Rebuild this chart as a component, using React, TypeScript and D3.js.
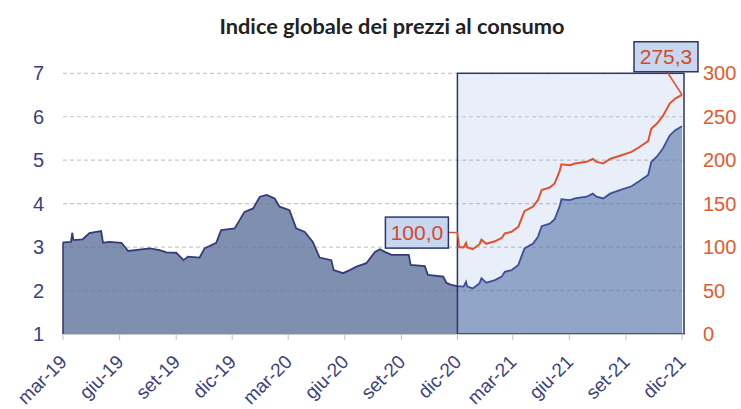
import React from "react";
import * as d3 from "d3";

const TITLE = "Indice globale dei prezzi al consumo";

const areaDates = [
  "2019-03-01","2019-03-14","2019-03-16","2019-03-18","2019-04-02","2019-04-13","2019-04-24","2019-05-02","2019-05-05","2019-05-16",
  "2019-06-04","2019-06-15","2019-07-20","2019-08-05","2019-08-16","2019-09-01","2019-09-13","2019-09-20","2019-10-09","2019-10-17",
  "2019-11-05","2019-11-13","2019-12-05","2019-12-13","2019-12-21","2020-01-04","2020-01-15","2020-01-26","2020-02-08","2020-02-16",
  "2020-03-03","2020-03-14","2020-03-28","2020-04-10","2020-04-21","2020-05-10","2020-05-14","2020-05-29","2020-06-09","2020-06-20",
  "2020-07-06","2020-07-20","2020-07-28","2020-08-05","2020-08-16","2020-09-13","2020-09-16","2020-10-09","2020-10-14","2020-11-08",
  "2020-11-13","2020-11-21","2020-12-01","2020-12-11","2020-12-15","2020-12-17","2020-12-26","2021-01-06","2021-01-09","2021-01-17",
  "2021-01-31","2021-02-11","2021-02-16","2021-02-27","2021-03-10","2021-03-15","2021-03-20","2021-04-03","2021-04-11","2021-04-17",
  "2021-04-30","2021-05-08","2021-05-16","2021-05-19","2021-06-02","2021-06-10","2021-06-29","2021-07-09","2021-07-15","2021-07-26",
  "2021-08-06","2021-08-22","2021-09-10","2021-09-23","2021-10-07","2021-10-12","2021-10-21","2021-10-31","2021-11-11","2021-11-20",
  "2021-12-01",
];
const areaValues = [
  3.11,3.12,3.33,3.16,3.18,3.32,3.35,3.37,3.10,3.12,
  3.10,2.91,2.97,2.93,2.88,2.87,2.70,2.78,2.76,2.97,
  3.10,3.39,3.43,3.62,3.81,3.89,4.16,4.20,4.12,3.93,
  3.85,3.43,3.35,3.12,2.76,2.70,2.47,2.40,2.47,2.55,
  2.63,2.89,2.95,2.89,2.82,2.82,2.59,2.56,2.36,2.32,
  2.18,2.13,2.10,2.09,2.20,2.09,2.05,2.17,2.28,2.18,
  2.24,2.32,2.43,2.47,2.59,2.78,2.97,3.08,3.24,3.48,
  3.54,3.64,3.93,4.10,4.08,4.12,4.16,4.23,4.16,4.12,
  4.23,4.31,4.40,4.52,4.66,4.96,5.08,5.27,5.57,5.69,
  5.78,
];

const indexDates = [
  "2020-12-01","2020-12-11","2020-12-15","2020-12-17","2020-12-26","2021-01-06","2021-01-09","2021-01-17",
  "2021-01-31","2021-02-11","2021-02-16","2021-02-27","2021-03-10","2021-03-15","2021-03-20","2021-04-03","2021-04-11","2021-04-17",
  "2021-04-30","2021-05-08","2021-05-16","2021-05-19","2021-06-02","2021-06-10","2021-06-29","2021-07-09","2021-07-15","2021-07-26",
  "2021-08-06","2021-08-22","2021-09-10","2021-09-23","2021-10-07","2021-10-12","2021-10-21","2021-10-31","2021-11-11","2021-11-20",
  "2021-12-01",
];
const indexValues = [
  100.0,99.5,104.8,99.5,97.6,103.3,108.6,103.8,
  106.7,110.5,115.7,117.6,123.3,132.4,141.4,146.7,154.3,165.7,
  168.6,173.3,187.1,195.2,194.3,196.2,198.1,201.4,198.1,196.2,
  201.4,205.2,209.5,215.2,221.9,236.2,241.9,251.0,265.2,271.0,
  275.3,
];

const leftTicks = [1, 2, 3, 4, 5, 6, 7];
const rightTicks = [0, 50, 100, 150, 200, 250, 300];
const xTickLabels = ["mar-19","giu-19","set-19","dic-19","mar-20","giu-20","set-20","dic-20","mar-21","giu-21","set-21","dic-21"];
const xTickDates = ["2019-03-01","2019-06-01","2019-09-01","2019-12-01","2020-03-01","2020-06-01","2020-09-01","2020-12-01","2021-03-01","2021-06-01","2021-09-01","2021-12-01"];
const xDomain = ["2019-03-01", "2021-12-01"];
const highlightStart = "2020-12-01";
const startLabel = "100,0";
const endLabel = "275,3";

const W = 741, H = 409;
const M = { left: 63, right: 682, top: 73.3, bottom: 334 };

const NAVY = "#2f356b";
const RED = "#e0522d";
const AXIS_BLUE = "#3b3f7e";

export default function App() {
  const parse = d3.timeParse("%Y-%m-%d");
  const x = d3.scaleTime().domain(xDomain.map((d) => parse(d) as Date)).range([M.left, M.right]);
  const yL = d3.scaleLinear().domain([1, 7]).range([M.bottom, M.top]);
  const yR = d3.scaleLinear().domain([0, 300]).range([M.bottom, M.top]);

  const areaData = areaDates.map((d, i) => ({ date: parse(d) as Date, v: areaValues[i] }));
  const indexData = indexDates.map((d, i) => ({ date: parse(d) as Date, v: indexValues[i] }));

  const areaGen = d3.area<{ date: Date; v: number }>().x((d) => x(d.date)).y0(yL(1)).y1((d) => yL(d.v));
  const lineGen = d3.line<{ date: Date; v: number }>().x((d) => x(d.date)).y((d) => yL(d.v));
  const idxGen = d3.line<{ date: Date; v: number }>().x((d) => x(d.date)).y((d) => yR(d.v));

  const hx = x(parse(highlightStart) as Date);
  const ticks = xTickDates.map((d, i) => ({ date: parse(d) as Date, label: xTickLabels[i] }));

  const p0 = { x: x(indexData[0].date), y: yR(indexData[0].v) };
  const last = indexData[indexData.length - 1];
  const pL = { x: x(last.date), y: yR(last.v) };

  const b0 = { x: p0.x - 72, y: p0.y - 30, w: 63, h: 31 };
  const bL = { x: pL.x - 48, y: pL.y - 53, w: 64, h: 30 };

  const areaPath = areaGen(areaData) || "";
  const outline = lineGen(areaData) || "";

  return (
    <div style={{ position: "absolute", left: 0, top: 0 }}>
      <svg width={W} height={H} style={{ display: "block" }}>
        <defs>
          <clipPath id="leftClip">
            <rect x={0} y={0} width={hx} height={H} />
          </clipPath>
          <clipPath id="rightClip">
            <rect x={hx} y={0} width={W - hx} height={H} />
          </clipPath>
        </defs>
        <rect x={0} y={0} width={W} height={H} fill="#ffffff" />
        <text
          x={392}
          y={34}
          textAnchor="middle"
          fontFamily="Lato, 'Open Sans', sans-serif"
          fontWeight="bold"
          fontSize={20}
          textLength={345}
          lengthAdjust="spacingAndGlyphs"
          fill="#222"
        >
          {TITLE}
        </text>

        <rect x={hx} y={M.top} width={M.right + 2 - hx} height={M.bottom - M.top} fill="#e9eff9" />

        <path d={areaPath} fill="#7f8fb0" clipPath="url(#leftClip)" />
        <path d={areaPath} fill="#91a5c9" clipPath="url(#rightClip)" />

        {leftTicks.slice(1).map((t) => (
          <line
            key={t}
            x1={M.left}
            x2={M.right}
            y1={yL(t)}
            y2={yL(t)}
            stroke="rgba(110,110,120,0.38)"
            strokeWidth={1.2}
            strokeDasharray="4 3"
          />
        ))}

        <path d={outline} fill="none" stroke="#343b7a" strokeWidth={1.8} clipPath="url(#leftClip)" />
        <path d={outline} fill="none" stroke="#3d4f98" strokeWidth={1.8} clipPath="url(#rightClip)" />
        <line x1={M.left} x2={M.left} y1={yL(areaValues[0])} y2={M.bottom} stroke="#343b7a" strokeWidth={1.6} />

        <rect
          x={hx}
          y={M.top}
          width={M.right + 2 - hx}
          height={M.bottom - M.top}
          fill="none"
          stroke={NAVY}
          strokeWidth={1.5}
        />

        <line x1={M.left} x2={M.right + 2} y1={M.bottom + 0.5} y2={M.bottom + 0.5} stroke="#c8c8c8" />
        {ticks.map((t, i) => (
          <g key={i}>
            <line x1={x(t.date)} x2={x(t.date)} y1={M.bottom} y2={M.bottom + 6} stroke="#c0c0c0" />
            <text
              transform={`translate(${x(t.date) + 5},${M.bottom + 29}) rotate(-45)`}
              textAnchor="end"
              fontFamily="'Liberation Sans', Arial, sans-serif"
              fontSize={19}
              fill={AXIS_BLUE}
            >
              {t.label}
            </text>
          </g>
        ))}

        <path d={idxGen(indexData) || ""} fill="none" stroke={RED} strokeWidth={2} />
        <path
          d={`M${b0.x + b0.w},${b0.y + b0.h / 2}H${p0.x}L${p0.x + 2},${p0.y}`}
          fill="none"
          stroke={RED}
          strokeWidth={1.5}
        />
        <path d={`M${bL.x + 33},${bL.y + bL.h}L${pL.x},${pL.y}`} fill="none" stroke={RED} strokeWidth={1.5} />

        <rect x={b0.x} y={b0.y} width={b0.w} height={b0.h} fill="#c7d7f0" stroke={NAVY} strokeWidth={1.5} />
        <text
          x={b0.x + b0.w / 2}
          y={b0.y + b0.h / 2 + 7.5}
          textAnchor="middle"
          fontFamily="'Liberation Sans', Arial, sans-serif"
          fontSize={21}
          fill="#d2492a"
        >
          {startLabel}
        </text>
        <rect x={bL.x} y={bL.y} width={bL.w} height={bL.h} fill="#c7d7f0" stroke={NAVY} strokeWidth={1.5} />
        <text
          x={bL.x + bL.w / 2}
          y={bL.y + bL.h / 2 + 7.5}
          textAnchor="middle"
          fontFamily="'Liberation Sans', Arial, sans-serif"
          fontSize={21}
          fill="#d2492a"
        >
          {endLabel}
        </text>

        {leftTicks.map((t) => (
          <text
            key={t}
            x={44}
            y={yL(t) + 7}
            textAnchor="end"
            fontFamily="'Liberation Sans', Arial, sans-serif"
            fontSize={20}
            fill={AXIS_BLUE}
          >
            {t}
          </text>
        ))}
        {rightTicks.map((t) => (
          <text
            key={t}
            x={703}
            y={yR(t) + 7}
            textAnchor="start"
            fontFamily="'Liberation Sans', Arial, sans-serif"
            fontSize={20}
            fill="#e35a2e"
          >
            {t}
          </text>
        ))}
      </svg>
    </div>
  );
}
